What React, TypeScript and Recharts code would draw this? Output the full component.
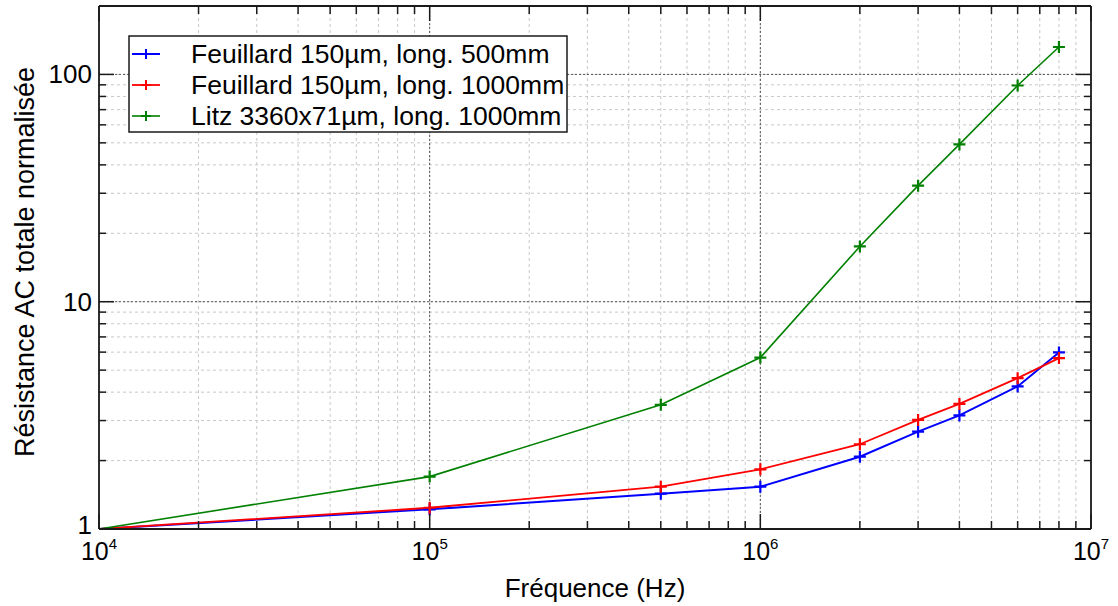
import React from 'react';
import { LineChart, Line, XAxis, YAxis, CartesianGrid, ReferenceLine } from 'recharts';

const frequencies = [1e4, 1e5, 5e5, 1e6, 2e6, 3e6, 4e6, 6e6, 8e6];
const feuillard500 = [1, 1.22, 1.43, 1.535, 2.08, 2.68, 3.16, 4.24, 5.98];
const feuillard1000 = [1, 1.24, 1.535, 1.83, 2.36, 3.02, 3.55, 4.61, 5.65];
const litz1000 = [1, 1.7, 3.52, 5.68, 17.5, 32.4, 49.2, 89.4, 132];

const xMajorTicks = [1e4, 1e5, 1e6, 1e7];
const xMinorTicks = [
  2e4, 3e4, 4e4, 5e4, 6e4, 7e4, 8e4, 9e4,
  2e5, 3e5, 4e5, 5e5, 6e5, 7e5, 8e5, 9e5,
  2e6, 3e6, 4e6, 5e6, 6e6, 7e6, 8e6, 9e6,
];
const yMajorTicks = [1, 10, 100];
const yMinorTicks = [2, 3, 4, 5, 6, 7, 8, 9, 20, 30, 40, 50, 60, 70, 80, 90];

const xTicks = [...xMajorTicks, ...xMinorTicks].sort((a, b) => a - b);
const yTicks = [...yMajorTicks, ...yMinorTicks].sort((a, b) => a - b);

const series = [
  { key: 'f500', name: 'Feuillard 150µm, long. 500mm', color: '#0000ff', width: 2, values: feuillard500 },
  { key: 'f1000', name: 'Feuillard 150µm, long. 1000mm', color: '#ff0000', width: 1.8, values: feuillard1000 },
  { key: 'litz', name: 'Litz 3360x71µm, long. 1000mm', color: '#008000', width: 1.6, values: litz1000 },
];

const data = frequencies.map((f, i) => {
  const row: any = { f };
  series.forEach((s) => (row[s.key] = s.values[i]));
  return row;
});

const FONT = '"Liberation Sans", Arial, Helvetica, sans-serif';
const FRAME = '#1a1a1a';

const isMajor = (v: number) => Math.abs(Math.log10(v) - Math.round(Math.log10(v))) < 1e-9;

const BottomTick = ({ x, y, payload }: any) => {
  const major = isMajor(payload.value);
  return (
    <g>
      <line x1={x} y1={y} x2={x} y2={y - (major ? 15 : 8)} stroke={FRAME} strokeWidth={1.5} />
      {major && (
        <text x={x} y={y + 31} textAnchor="middle" fontSize={25} fontFamily={FONT} fill="#000">
          10
          <tspan dy={-11} fontSize={15}>{Math.round(Math.log10(payload.value))}</tspan>
        </text>
      )}
    </g>
  );
};

const TopTick = ({ x, y, payload }: any) => {
  const major = isMajor(payload.value);
  return <line x1={x} y1={y} x2={x} y2={y + (major ? 15 : 8)} stroke={FRAME} strokeWidth={1.5} />;
};

const LeftTick = ({ x, y, payload }: any) => {
  const major = isMajor(payload.value);
  return (
    <g>
      <line x1={x} y1={y} x2={x + (major ? 15 : 7)} y2={y} stroke={FRAME} strokeWidth={1.5} />
      {major && (
        <text x={x - 7} y={payload.value === 1 ? y - 4 : y} textAnchor="end" dominantBaseline="central" fontSize={26} fontFamily={FONT} fill="#000">
          {payload.value}
        </text>
      )}
    </g>
  );
};

const RightTick = ({ x, y, payload }: any) => {
  const major = isMajor(payload.value);
  return <line x1={x} y1={y} x2={x - (major ? 15 : 7)} y2={y} stroke={FRAME} strokeWidth={1.5} />;
};

const plusDot = (color: string, size: number) => (props: any) => {
  const { cx, cy, index } = props;
  if (index === 0 || cx == null || cy == null) return <g key={`d${index}`} />;
  return (
    <path
      key={`d${index}`}
      d={`M${cx - size},${cy}H${cx + size}M${cx},${cy - size}V${cy + size}`}
      stroke={color}
      strokeWidth={2.2}
      fill="none"
    />
  );
};

const LegendBox = () => (
  <svg
    width={440}
    height={98}
    style={{ position: 'absolute', left: 128, top: 35, overflow: 'visible' }}
  >
    <rect x={1} y={1} width={438} height={96} fill="#fff" stroke={FRAME} strokeWidth={1.5} />
    {series.map((s, i) => {
      const cy = 19 + i * 31;
      return (
        <g key={s.key}>
          <line x1={4} y1={cy} x2={32} y2={cy} stroke={s.color} strokeWidth={s.width} />
          <path d={`M${18 - 5},${cy}H${18 + 5}M18,${cy - 5}V${cy + 5}`} stroke={s.color} strokeWidth={2} />
          <text x={63} y={cy} dominantBaseline="central" fontSize={26.5} fontFamily={FONT} fill="#000">
            {s.name}
          </text>
        </g>
      );
    })}
  </svg>
);

export default function App() {
  return (
    <div style={{ position: 'absolute', left: 0, top: 0, width: 1118, height: 606, background: '#fff' }}>
      <LineChart width={1118} height={606} data={data} margin={{ top: 0, right: 17, bottom: 37, left: 39 }}>
        <CartesianGrid
          xAxisId="bottom"
          yAxisId="left"
          stroke="#c8c8c8"
          strokeDasharray="3 3"
          strokeWidth={1}
        />
        {xMajorTicks.slice(1, -1).map((v) => (
          <ReferenceLine key={`vx${v}`} x={v} xAxisId="bottom" yAxisId="left" stroke="#555" strokeDasharray="2 2" strokeWidth={1} />
        ))}
        {yMajorTicks.slice(1).map((v) => (
          <ReferenceLine key={`hy${v}`} y={v} xAxisId="bottom" yAxisId="left" stroke="#555" strokeDasharray="2 2" strokeWidth={1} />
        ))}
        <XAxis
          xAxisId="bottom"
          dataKey="f"
          type="number"
          scale="log"
          domain={[1e4, 1e7]}
          ticks={xTicks}
          interval={0}
          height={40}
          tickSize={0}
          tickMargin={0}
          tick={<BottomTick />}
          axisLine={{ stroke: FRAME, strokeWidth: 1.8 }}
          tickLine={false}
          allowDataOverflow
        />
        <XAxis
          xAxisId="top"
          orientation="top"
          dataKey="f"
          type="number"
          scale="log"
          domain={[1e4, 1e7]}
          ticks={xTicks}
          interval={0}
          height={6}
          tickSize={0}
          tickMargin={0}
          tick={<TopTick />}
          axisLine={{ stroke: FRAME, strokeWidth: 1.8 }}
          tickLine={false}
          allowDataOverflow
        />
        <YAxis
          yAxisId="left"
          type="number"
          scale="log"
          domain={[1, 200]}
          ticks={yTicks}
          interval={0}
          width={60}
          tickSize={0}
          tickMargin={0}
          tick={<LeftTick />}
          axisLine={{ stroke: FRAME, strokeWidth: 1.8 }}
          tickLine={false}
          allowDataOverflow
        />
        <YAxis
          yAxisId="right"
          orientation="right"
          type="number"
          scale="log"
          domain={[1, 200]}
          ticks={yTicks}
          interval={0}
          width={10}
          tickSize={0}
          tickMargin={0}
          tick={<RightTick />}
          axisLine={{ stroke: FRAME, strokeWidth: 1.8 }}
          tickLine={false}
          allowDataOverflow
        />
        {series.map((s) => (
          <Line
            key={s.key}
            xAxisId="bottom"
            yAxisId="left"
            dataKey={s.key}
            name={s.name}
            type="linear"
            stroke={s.color}
            strokeWidth={s.width}
            dot={plusDot(s.color, 6)}
            activeDot={false}
            isAnimationActive={false}
          />
        ))}
      </LineChart>
      <LegendBox />
      <div
        style={{
          position: 'absolute',
          left: 0,
          top: 0,
          width: 1118,
          height: 606,
          pointerEvents: 'none',
        }}
      >
        <svg width={1118} height={606}>
          <text x={595} y={597} textAnchor="middle" fontSize={26} fontFamily={FONT} fill="#000">
            Fréquence (Hz)
          </text>
          <text
            x={0}
            y={0}
            transform="translate(34,262) rotate(-90)"
            textAnchor="middle"
            fontSize={27}
            fontFamily={FONT}
            fill="#000"
          >
            Résistance AC totale normalisée
          </text>
        </svg>
      </div>
    </div>
  );
}
